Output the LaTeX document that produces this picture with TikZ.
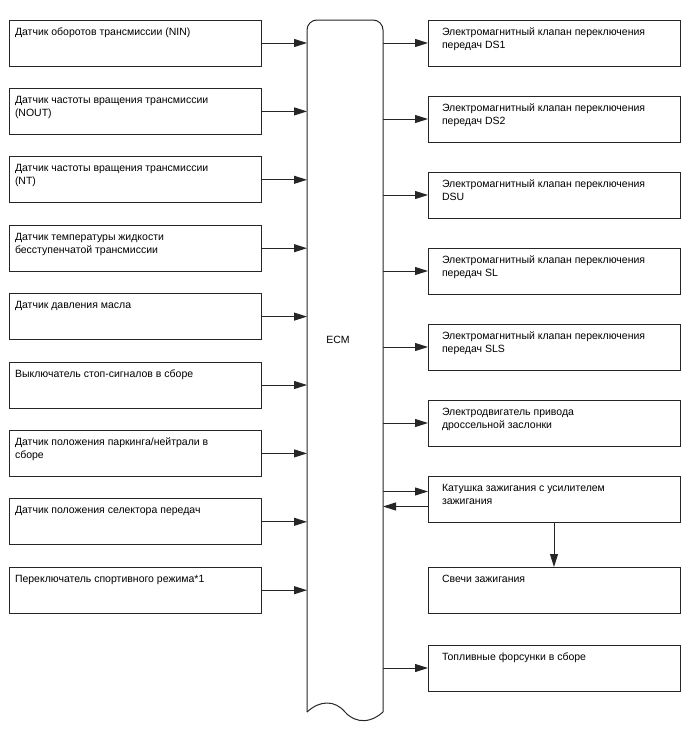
\documentclass[tikz,border=0pt]{standalone}
\usepackage{fontspec}
\setmainfont{Liberation Sans}
\usetikzlibrary{arrows.meta, positioning}
\colorlet{frame}{black!85}

\begin{document}
\begin{tikzpicture}[
    x=1pt, y=-1pt,
    every node/.style={font=\fontsize{10.5}{13}\selectfont},
    arr/.style={-{Triangle[length=13pt, width=8pt]}, frame, line width=1pt},
    inbox/.style={draw=frame, line width=1pt, anchor=north west, outer sep=0pt, inner xsep=6pt, inner ysep=6pt,
        execute at begin node={\begin{minipage}[t][34pt][t]{240pt}\raggedright\strut},
        execute at end node={\end{minipage}}},
    outbox/.style={draw=frame, line width=1pt, anchor=north west, outer sep=0pt, inner xsep=14pt, inner ysep=6pt,
        execute at begin node={\begin{minipage}[t][34pt][t]{224pt}\raggedright\strut},
        execute at end node={\end{minipage}}},
]
\useasboundingbox (0,0) rectangle (688,755);

% ============================================================
% ECM body
% ============================================================
\node[minimum width=76pt, minimum height=692pt, inner sep=0pt, outer sep=0pt] (ecm) at (345,366) {};
\draw[frame, line width=1pt, rounded corners=10pt]
    (ecm.south west) -- (ecm.north west) -- (ecm.north east) -- (ecm.south east);
\draw[frame, line width=1pt]
    (ecm.south east) .. controls (365,728) and (350,718) .. (345,712)
    .. controls (335,700) and (320,700) .. (ecm.south west);
\node (ecmlbl) at (338,340) {ECM};

% ============================================================
% Inputs (left column)
% ============================================================
\node[inbox] (s1) at (9,20) {Датчик оборотов трансмиссии (NIN)};
\node[inbox, below=22.4pt of s1] (s2) {Датчик частоты вращения трансмиссии\\(NOUT)};
\node[inbox, below=22.4pt of s2] (s3) {Датчик частоты вращения трансмиссии\\(NT)};
\node[inbox, below=22.4pt of s3] (s4) {Датчик температуры жидкости\\бесступенчатой трансмиссии};
\node[inbox, below=22.4pt of s4] (s5) {Датчик давления масла};
\node[inbox, below=22.4pt of s5] (s6) {Выключатель стоп-сигналов в сборе};
\node[inbox, below=22.4pt of s6] (s7) {Датчик положения паркинга/нейтрали в\\сборе};
\node[inbox, below=22.4pt of s7] (s8) {Датчик положения селектора передач};
\node[inbox, below=22.4pt of s8] (s9) {Переключатель спортивного режима*1};

\foreach \s in {s1,s2,s3,s4,s5,s6,s7,s8,s9} {
    \draw[arr] (\s.east) -- (\s.east -| ecm.west);
}

% ============================================================
% Outputs (right column)
% ============================================================
\node[outbox] (a1) at (428,20) {Электромагнитный клапан переключения\\передач DS1};
\node[outbox, below=30pt of a1] (a2) {Электромагнитный клапан переключения\\передач DS2};
\node[outbox, below=30pt of a2] (a3) {Электромагнитный клапан переключения\\DSU};
\node[outbox, below=30pt of a3] (a4) {Электромагнитный клапан переключения\\передач SL};
\node[outbox, below=30pt of a4] (a5) {Электромагнитный клапан переключения\\передач SLS};
\node[outbox, below=30pt of a5] (a6) {Электродвигатель привода\\дроссельной заслонки};
\node[outbox, below=30pt of a6] (a7) {Катушка зажигания с усилителем\\зажигания};
\node[outbox, below=45pt of a7] (a8) {Свечи зажигания};
\node[outbox, below=32pt of a8] (a9) {Топливные форсунки в сборе};

\foreach \a in {a1,a2,a3,a4,a5,a6,a9} {
    \draw[arr] (ecm.east |- \a.west) -- (\a.west);
}

% ignition coil: two-way link + spark plugs
\draw[arr] ([yshift=7.5pt]ecm.east |- a7.west) -- ([yshift=7.5pt]a7.west);
\draw[arr] ([yshift=-7.5pt]a7.west) -- ([yshift=-7.5pt]ecm.east |- a7.west);
\draw[arr] (a7.south) -- (a8.north);

\end{tikzpicture}
\end{document}
